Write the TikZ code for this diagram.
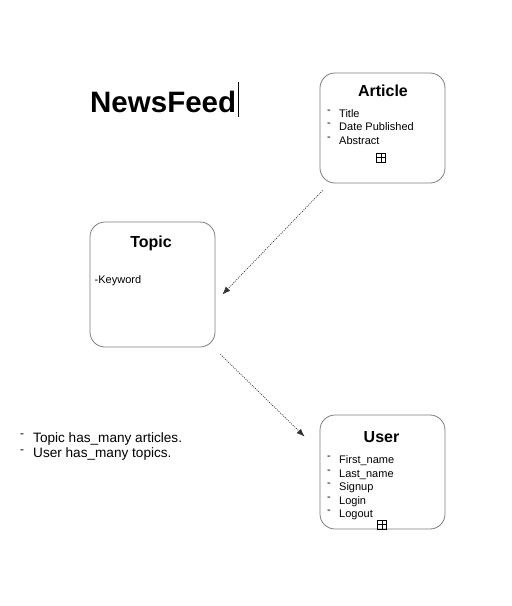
\documentclass[tikz,border=0pt]{standalone}
\usepackage{fontspec}
\setmainfont{Liberation Sans}
\usetikzlibrary{arrows.meta}
\definecolor{nf-boxgrey}{RGB}{125,125,125}
\definecolor{nf-linkgrey}{RGB}{50,50,50}
\newcommand\itemdash{\makebox[12pt][l]{\raisebox{3.8pt}{\fontsize{11}{11}\selectfont -}}}
\newcommand\notedash{\makebox[13pt][l]{\raisebox{4.5pt}{\fontsize{12}{12}\selectfont -}}}

\begin{document}
\begin{tikzpicture}[x=1pt,y=-1pt,
	entity/.style={draw=nf-boxgrey,line width=0.8pt,rounded corners=15pt,minimum width=125pt,inner sep=0pt},
	entity title/.style={font=\bfseries\fontsize{16}{19}\selectfont,anchor=base,inner sep=0pt},
	field/.style={font=\fontsize{11}{13}\selectfont,anchor=base west,inner sep=0pt},
	note/.style={font=\fontsize{13.6}{15}\selectfont,anchor=base west,inner sep=0pt},
	expander/.style={draw,line width=0.6pt,minimum size=9pt,inner sep=0pt,
		path picture={\draw[line width=0.6pt] (path picture bounding box.north) -- (path picture bounding box.south)
			(path picture bounding box.west) -- (path picture bounding box.east);}},
	has many/.style={draw=nf-linkgrey,line width=0.7pt,dash pattern=on 1pt off 1.2pt,
		-{Latex[length=8pt,width=6pt]}}]
\useasboundingbox (0,0) rectangle (512,606);

% heading
\node[font=\bfseries\fontsize{29.5}{32}\selectfont,anchor=base west,inner sep=0pt] (heading) at (90,112) {NewsFeed};
\draw[line width=0.8pt] (238,82) -- (238,117);

% Article
\node[entity,minimum height=110pt] (article) at (382.5,128) {};
\node[entity title] (article-title) at (383,96) {Article};
\foreach \f [count=\i from 0] in {Title,Date Published,Abstract}
	\node[field] (article-f\i) at (327,{117+13.5*\i}) {\itemdash\f};
\node[expander] (article-plus) at (381,157.5) {};

% Topic
\node[entity,minimum height=125pt] (topic) at (152.5,284.5) {};
\node[entity title] (topic-title) at (151,247.5) {Topic};
\node[field] (topic-f0) at (94.5,283.5) {-Keyword};

% User
\node[entity,minimum height=114pt] (user) at (382.5,472) {};
\node[entity title] (user-title) at (381.5,442.5) {User};
\foreach \f [count=\i from 0] in {First\_name,Last\_name,Signup,Login,Logout}
	\node[field] (user-f\i) at (327,{463.5+13.5*\i}) {\itemdash\f};
\node[expander] (user-plus) at (382,524.5) {};

% notes
\node[note] (note-1) at (20,442) {\notedash Topic has\_many articles.};
\node[note] (note-2) at (20,457.5) {\notedash User has\_many topics.};

\draw[has many] ([shift={(3,7)}]article.south west) -- ([shift={(7,10)}]topic.east);
\draw[has many] ([shift={(5,7)}]topic.south east) -- ([shift={(-15,22)}]user.north west);

\end{tikzpicture}
\end{document}
